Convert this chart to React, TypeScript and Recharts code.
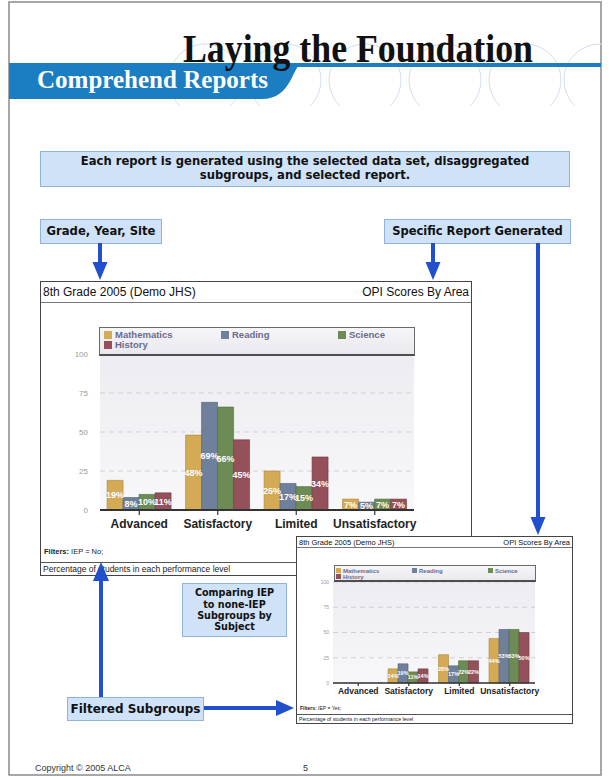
import React from 'react';
import { BarChart, Bar, XAxis, YAxis, CartesianGrid, Legend, LabelList } from 'recharts';

const categories = ['Advanced', 'Satisfactory', 'Limited', 'Unsatisfactory'];
const subjects = ['Mathematics', 'Reading', 'Science', 'History'];
const subjectColors = ['#d4aa55', '#6e809b', '#6d8b54', '#94515a'];
const subjectStrokes = ['#a9843a', '#4f5f78', '#4f6b3a', '#6f3940'];
const yTicks = [0, 25, 50, 75, 100];

// Filter IEP = No (main report)
const iepNoMathematics = [19, 48, 25, 7];
const iepNoReading = [8, 69, 17, 5];
const iepNoScience = [10, 66, 15, 7];
const iepNoHistory = [11, 45, 34, 7];

// Filter IEP = Yes (second report)
const iepYesMathematics = [0, 14, 28, 44];
const iepYesReading = [0, 19, 17, 53];
const iepYesScience = [0, 11, 22, 53];
const iepYesHistory = [0, 14, 22, 50];

const buildData = (series: number[][]) =>
  categories.map((c, i) => {
    const row: any = { category: c };
    subjects.forEach((s, j) => {
      row[s] = series[j][i];
    });
    return row;
  });

const dataNo = buildData([iepNoMathematics, iepNoReading, iepNoScience, iepNoHistory]);
const dataYes = buildData([iepYesMathematics, iepYesReading, iepYesScience, iepYesHistory]);

const SANS = '"Liberation Sans", Arial, Helvetica, sans-serif';
const VERD = '"DejaVu Sans", Verdana, sans-serif';
const SERIF = '"Liberation Serif", "Times New Roman", serif';
const BLUE = '#2150cf';

type Cfg = {
  id: string;
  left: number; top: number; width: number; height: number;
  headerH: number; headerFont: number;
  chartH: number;
  margin: { top: number; right: number; bottom: number; left: number };
  yW: number; yFont: number; yTickMargin: number;
  xH: number; xFont: number; xTickSize: number; xTickMargin: number; axisW: number;
  legend: { left: number; top: number; w: number; h: number; font: number; sq: number; rowH: number; padX: number; padY: number; colW: number; gap: number };
  labelFont: number;
  filterTop: number; filterFont: number; filterText: string;
  footLine: number; footFont: number;
  gap: string;
};

const makeLegend = (cfg: Cfg) => (props: any) => {
  const payload = [...(props.payload || [])].sort(
    (a: any, b: any) => subjects.indexOf(a.value) - subjects.indexOf(b.value)
  );
  const L = cfg.legend;
  return (
    <div
      style={{
        width: L.w, height: L.h, boxSizing: 'border-box', position: 'relative',
        border: '1px solid #6a6a6a', borderBottom: '2px solid #4e4e4e',
        background: 'linear-gradient(#f6f6f9, #e8e8ee)',
        fontFamily: SANS, fontWeight: 'bold', fontSize: L.font, color: '#6a6a8c',
      }}
    >
      {payload.map((p: any, i: number) => {
        const col = i % 3;
        const row = Math.floor(i / 3);
        return (
          <div
            key={p.value}
            style={{
              position: 'absolute', left: L.padX + col * L.colW, top: L.padY + row * L.rowH,
              height: L.rowH, display: 'flex', alignItems: 'center', whiteSpace: 'nowrap',
            }}
          >
            <span style={{ display: 'inline-block', width: L.sq, height: L.sq, background: p.color, marginRight: L.gap }} />
            <span style={{ lineHeight: L.rowH + 'px' }}>{p.value}</span>
          </div>
        );
      })}
    </div>
  );
};

const ChartPanel = ({ cfg, data }: { cfg: Cfg; data: any[] }) => (
  <div
    style={{
      position: 'absolute', left: cfg.left, top: cfg.top, width: cfg.width, height: cfg.height,
      boxSizing: 'border-box', border: '1px solid #444', background: '#fff', fontFamily: SANS,
    }}
  >
    <div
      style={{
        height: cfg.headerH, borderBottom: '1px solid #777', boxSizing: 'border-box',
        display: 'flex', justifyContent: 'space-between', alignItems: 'center',
        padding: '0 2px', fontSize: cfg.headerFont, color: '#111', whiteSpace: 'nowrap',
      }}
    >
      <span>8th Grade 2005 (Demo JHS)</span>
      <span>OPI Scores By Area</span>
    </div>
    <div style={{ position: 'absolute', left: -1, top: cfg.headerH - 1 }}>
      <BarChart
        width={cfg.width}
        height={cfg.chartH}
        data={data}
        margin={cfg.margin}
        barGap={0}
        barCategoryGap={cfg.gap}
      >
        <defs>
          <linearGradient id={cfg.id + 'bg'} x1="0" y1="0" x2="0" y2="1">
            <stop offset="0%" stopColor="#ececf2" />
            <stop offset="100%" stopColor="#f8f8fa" />
          </linearGradient>
        </defs>
        <CartesianGrid
          vertical={false}
          fill={`url(#${cfg.id}bg)`}
          fillOpacity={1}
          stroke="#cfcfd6"
          strokeDasharray="5 4"
        />
        <XAxis
          dataKey="category"
          height={cfg.xH}
          axisLine={{ stroke: '#333', strokeWidth: cfg.axisW }}
          tickLine={{ stroke: '#333', strokeWidth: 1.2 }}
          tickSize={cfg.xTickSize}
          tickMargin={cfg.xTickMargin}
          tick={{ fontSize: cfg.xFont, fontWeight: 'bold', fill: '#222', fontFamily: SANS }}
          interval={0}
        />
        <YAxis
          domain={[0, 100]}
          ticks={yTicks}
          width={cfg.yW}
          axisLine={false}
          tickLine={false}
          tickSize={0}
          tickMargin={cfg.yTickMargin}
          tick={{ fontSize: cfg.yFont, fill: '#9a9a9a', fontFamily: SANS }}
        />
        <Legend
          layout="horizontal"
          verticalAlign="middle"
          align="center"
          wrapperStyle={{ top: cfg.legend.top, left: cfg.legend.left, width: cfg.legend.w, height: cfg.legend.h }}
          content={makeLegend(cfg)}
        />
        {subjects.map((s, i) => (
          <Bar
            key={s}
            dataKey={s}
            name={s}
            fill={subjectColors[i]}
            stroke={subjectStrokes[i]}
            strokeWidth={0.6}
            isAnimationActive={false}
          >
            <LabelList
              dataKey={s}
              position="center"
              formatter={(v: any) => (v ? `${v}%` : '')}
              fill="#ffffff"
              fontSize={cfg.labelFont}
              fontWeight="bold"
              fontFamily={SANS}
            />
          </Bar>
        ))}
      </BarChart>
    </div>
    <div
      style={{
        position: 'absolute', left: 3, top: cfg.filterTop, fontSize: cfg.filterFont, color: '#222',
        lineHeight: 1, whiteSpace: 'nowrap',
      }}
    >
      <b>Filters:</b> {cfg.filterText}
    </div>
    <div
      style={{
        position: 'absolute', left: 0, right: 0, top: cfg.footLine, bottom: 0, borderTop: '1px solid #555',
        fontSize: cfg.footFont, color: '#222', display: 'flex', alignItems: 'center', paddingLeft: 2,
        whiteSpace: 'nowrap',
      }}
    >
      Percentage of students in each performance level
    </div>
  </div>
);

const mainCfg: Cfg = {
  id: 'main',
  left: 40, top: 281, width: 432, height: 295,
  headerH: 21, headerFont: 12,
  chartH: 260,
  margin: { top: 52, right: 58, bottom: 22, left: 0 },
  yW: 60, yFont: 8, yTickMargin: 12,
  xH: 30, xFont: 12, xTickSize: 5, xTickMargin: 4, axisW: 2,
  legend: { left: 59, top: 25, w: 316, h: 29, font: 9.5, sq: 8, rowH: 10, padX: 4, padY: 2, colW: 117, gap: 3 },
  labelFont: 9,
  filterTop: 266, filterFont: 7.5, filterText: 'IEP = No;',
  footLine: 280, footFont: 8.5,
  gap: '9%',
};

const smallCfg: Cfg = {
  id: 'small',
  left: 296, top: 536, width: 277, height: 188,
  headerH: 11, headerFont: 7.5,
  chartH: 167,
  margin: { top: 35, right: 38, bottom: 11, left: 0 },
  yW: 37, yFont: 5, yTickMargin: 4,
  xH: 20, xFont: 8.5, xTickSize: 3, xTickMargin: 2, axisW: 1.5,
  legend: { left: 38, top: 18, w: 202, h: 17, font: 6, sq: 5, rowH: 6, padX: 1, padY: 1.5, colW: 76, gap: 2 },
  labelFont: 5.5,
  filterTop: 169, filterFont: 5, filterText: 'IEP = Yes;',
  footLine: 177, footFont: 5.2,
  gap: '9%',
};

const DownArrow = ({ x, y1, tip, hw = 7.5, hl = 18 }: any) => (
  <g>
    <line x1={x} y1={y1} x2={x} y2={tip - hl + 1} stroke={BLUE} strokeWidth={4} />
    <polygon points={`${x - hw},${tip - hl} ${x + hw},${tip - hl} ${x},${tip}`} fill={BLUE} />
  </g>
);

const CallBox = ({ left, top, width, height, font, children }: any) => (
  <div
    style={{
      position: 'absolute', left, top, width, height, boxSizing: 'border-box',
      background: '#cfe2f7', border: '1px solid #8fb2df', fontFamily: VERD, fontWeight: 'bold',
      fontSize: font, color: '#111', display: 'flex', alignItems: 'center', justifyContent: 'center',
      textAlign: 'center', lineHeight: 1.18, whiteSpace: 'nowrap',
    }}
  >
    <div>{children}</div>
  </div>
);

export default function App() {
  const circles = [205, 285, 365, 445, 525, 600];
  return (
    <div style={{ position: 'absolute', left: 0, top: 0, width: 611, height: 777, background: '#fff', overflow: 'hidden' }}>
      <svg width={611} height={777} style={{ position: 'absolute', left: 0, top: 0 }}>
        <defs>
          <clipPath id="hdrclip">
            <rect x={150} y={28} width={452} height={78} />
          </clipPath>
        </defs>
        <rect x={9} y={2} width={592} height={773} fill="#fff" stroke="#8a8a8a" strokeWidth={1.5} />
        <g clipPath="url(#hdrclip)" fill="none" stroke="#d3def0" strokeWidth={1}>
          {circles.map((cx) => (
            <circle key={cx} cx={cx} cy={80} r={36} />
          ))}
          {circles.map((cx) => (
            <line key={'l' + cx} x1={cx + 36} y1={66} x2={cx + 44} y2={66} />
          ))}
        </g>
        <rect x={9} y={63} width={592} height={4} fill="#1b7dc2" />
        <path d="M9,63 H302 C292,66 292,99 262,99 H9 Z" fill="#1b7dc2" />
        <text
          x={183} y={62} fontFamily={SERIF} fontWeight="bold" fontSize={41} fill="#111"
          textLength={350} lengthAdjust="spacingAndGlyphs"
        >
          Laying the Foundation
        </text>
        <text
          x={37} y={88} fontFamily={SERIF} fontWeight="bold" fontSize={26} fill="#fff"
          textLength={231} lengthAdjust="spacingAndGlyphs"
        >
          Comprehend Reports
        </text>
        <text x={35} y={771} fontFamily={SANS} fontSize={9} fill="#333">Copyright © 2005 ALCA</text>
        <text x={303} y={771} fontFamily={SANS} fontSize={9} fill="#333">5</text>
      </svg>

      <CallBox left={40} top={151} width={530} height={36} font={11.6}>
        Each report is generated using the selected data set, disaggregated
        <br />
        subgroups, and selected report.
      </CallBox>
      <CallBox left={40} top={219} width={122} height={25} font={11.6}>Grade, Year, Site</CallBox>
      <CallBox left={384} top={219} width={187} height={25} font={11.5}>Specific Report Generated</CallBox>

      <ChartPanel cfg={mainCfg} data={dataNo} />
      <ChartPanel cfg={smallCfg} data={dataYes} />

      <CallBox left={182} top={583} width={105} height={54} font={9.6}>
        Comparing IEP
        <br />
        to none-IEP
        <br />
        Subgroups by
        <br />
        Subject
      </CallBox>
      <CallBox left={67} top={697} width={137} height={24} font={12}>Filtered Subgroups</CallBox>

      <svg width={611} height={777} style={{ position: 'absolute', left: 0, top: 0, pointerEvents: 'none' }}>
        <DownArrow x={100} y1={243} tip={280} />
        <DownArrow x={433} y1={243} tip={280} />
        <DownArrow x={538} y1={243} tip={535} />
        <line x1={101} y1={697} x2={101} y2={580} stroke={BLUE} strokeWidth={4} />
        <polygon points="93,581 109,581 101,562" fill={BLUE} />
        <line x1={204} y1={708} x2={277} y2={708} stroke={BLUE} strokeWidth={4} />
        <polygon points="276,700 276,716 294,708" fill={BLUE} />
      </svg>
    </div>
  );
}
